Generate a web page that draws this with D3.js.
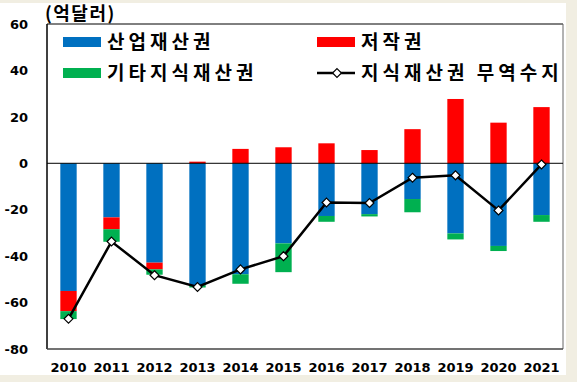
<!DOCTYPE html>
<html>
<head>
<meta charset="utf-8">
<script src="https://cdn.jsdelivr.net/npm/d3@7"></script>
<style>
  body { margin: 0; background: #f1eee2; }
  svg { display: block; }
</style>
</head>
<body>
<svg width="577" height="382"></svg>
<script>
let years = ['2010', '2011', '2012', '2013', '2014', '2015', '2016', '2017', '2018', '2019', '2020', '2021'];
let industrial = [-55, -23.3, -42.8, -52.5, -47.8, -34.5, -22.7, -21.9, -15.4, -30.2, -35.6, -22.3];
let copyright = [-8.7, -5.1, -2.9, 0.7, 6.2, 6.9, 8.6, 5.7, 14.7, 27.7, 17.5, 24.2];
let other = [-3.4, -5.4, -2.3, -1.0, -4.1, -12.4, -2.5, -1.0, -5.7, -2.6, -2.2, -2.9];
let balance = [-67, -33.7, -48.2, -53.3, -45.7, -40, -16.9, -17.1, -6.2, -5.2, -20.3, -0.5];
let yTicks = [60, 40, 20, 0, -20, -40, -60, -80];

let keys = ['산업재산권', '저작권', '기타지식재산권'];
let colors = {'산업재산권': '#0070c0', '저작권': '#ff0000', '기타지식재산권': '#00b050'};

let rows = years.map((y, i) => ({year: y, '산업재산권': industrial[i], '저작권': copyright[i], '기타지식재산권': other[i]}));

let svg = d3.select('svg');
let margin = {left: 47, right: 14, top: 24, bottom: 33};
let width = 577 - margin.left - margin.right,
    height = 382 - margin.top - margin.bottom;

svg.append('rect').attr('x', 0).attr('y', 3).attr('width', 566).attr('height', 372).attr('fill', '#fff');

let x = d3.scaleBand().domain(years).range([margin.left, margin.left + width]).paddingInner(0.62).paddingOuter(0.31);
let y = d3.scaleLinear().domain([-80, 60]).range([margin.top + height, margin.top]);

let series = d3.stack().keys(keys).offset(d3.stackOffsetDiverging)(rows);

svg.append('g')
    .selectAll('g')
    .data(series)
    .enter().append('g')
    .attr('fill', d => colors[d.key])
    .selectAll('rect')
    .data(d => d)
    .enter().append('rect')
    .attr('x', d => x(d.data.year))
    .attr('width', x.bandwidth())
    .attr('y', d => y(Math.max(d[0], d[1])))
    .attr('height', d => Math.abs(y(d[0]) - y(d[1])));

// frame
let x0 = margin.left, x1 = margin.left + width, y0 = margin.top, y1 = margin.top + height;
svg.append('line').attr('x1', x0).attr('x2', x1).attr('y1', y0).attr('y2', y0).attr('stroke', '#000');
svg.append('line').attr('x1', x0).attr('x2', x0).attr('y1', y0).attr('y2', y1).attr('stroke', '#000').attr('stroke-width', 1.5);
svg.append('line').attr('x1', x1).attr('x2', x1).attr('y1', y0).attr('y2', y1).attr('stroke', '#666');
svg.append('line').attr('x1', x0).attr('x2', x1).attr('y1', y1).attr('y2', y1).attr('stroke', '#444').attr('stroke-width', 1.5);
svg.append('line').attr('x1', x0).attr('x2', x1).attr('y1', y(0)).attr('y2', y(0)).attr('stroke', '#000');

// axes
let yAxis = svg.append('g')
    .attr('transform', `translate(${x0},0)`)
    .call(d3.axisLeft(y).tickValues(yTicks).tickFormat(d => String(d)).tickSize(0).tickPadding(19));
yAxis.select('.domain').remove();
yAxis.selectAll('text')
    .attr('font-family', 'DejaVu Sans')
    .attr('font-weight', 'bold')
    .attr('font-size', 13)
    .attr('fill', '#000');

let xAxis = svg.append('g')
    .attr('transform', `translate(0,${y1})`)
    .call(d3.axisBottom(x).tickSize(0).tickPadding(14));
xAxis.select('.domain').remove();
xAxis.selectAll('text')
    .attr('font-family', 'DejaVu Sans')
    .attr('font-weight', 'bold')
    .attr('font-size', 13)
    .attr('fill', '#000');

// balance line
let line = d3.line().x((d, i) => x(years[i]) + x.bandwidth() / 2).y(d => y(d));
svg.append('path')
    .datum(balance)
    .attr('d', line)
    .attr('fill', 'none')
    .attr('stroke', '#000')
    .attr('stroke-width', 2.5);

let diamond = d3.symbol().type(d3.symbolDiamond2).size(50);
svg.append('g')
    .selectAll('path')
    .data(balance)
    .enter().append('path')
    .attr('d', diamond)
    .attr('transform', (d, i) => `translate(${x(years[i]) + x.bandwidth() / 2},${y(d)})`)
    .attr('fill', '#fff')
    .attr('stroke', '#000')
    .attr('stroke-width', 1.2);

// unit
svg.append('text')
    .attr('x', 45).attr('y', 20)
    .attr('font-family', 'Noto Sans CJK KR')
    .attr('font-weight', 'bold')
    .attr('font-size', 18)
    .attr('letter-spacing', 1.5)
    .text('(억달러)');

// legend
let legend = [
    {key: '산업재산권', x: 63, y: 42, kind: 'bar'},
    {key: '기타지식재산권', x: 63, y: 73, kind: 'bar'},
    {key: '저작권', x: 317, y: 42, kind: 'bar'},
    {key: '지식재산권 무역수지', x: 317, y: 73, kind: 'line'}
];
let lg = svg.append('g').selectAll('g').data(legend).enter().append('g')
    .attr('transform', d => `translate(${d.x},${d.y})`);
lg.filter(d => d.kind === 'bar').append('rect')
    .attr('x', 0).attr('y', -5).attr('width', 38).attr('height', 10)
    .attr('fill', d => colors[d.key]);
lg.filter(d => d.kind === 'line').append('line')
    .attr('x1', 0).attr('x2', 38).attr('y1', 0).attr('y2', 0)
    .attr('stroke', '#000').attr('stroke-width', 2.5);
lg.filter(d => d.kind === 'line').append('path')
    .attr('d', diamond)
    .attr('transform', 'translate(20,0)')
    .attr('fill', '#fff').attr('stroke', '#000').attr('stroke-width', 1.2);
lg.append('text')
    .attr('x', 44).attr('y', 0).attr('dy', '0.36em')
    .attr('font-family', 'Noto Sans CJK KR')
    .attr('font-weight', 'bold')
    .attr('font-size', 19)
    .attr('letter-spacing', 4)
    .text(d => d.key);
</script>
</body>
</html>
